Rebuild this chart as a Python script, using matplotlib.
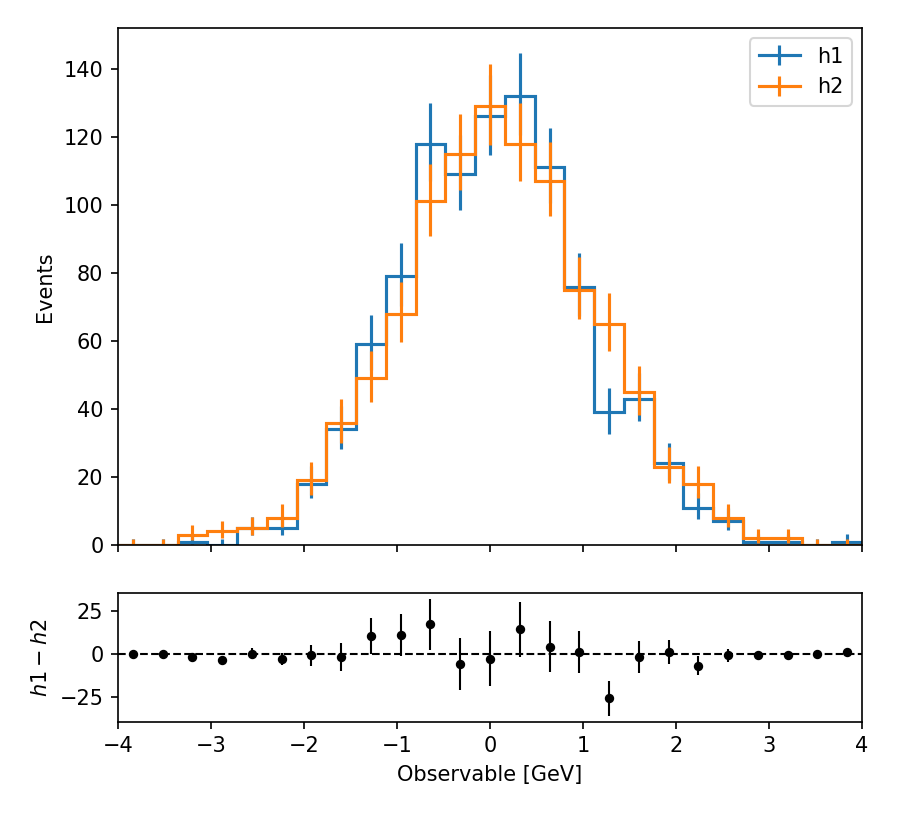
import math
import numpy as np
import matplotlib
matplotlib.use("Agg")
import matplotlib.pyplot as plt
from matplotlib.lines import Line2D

# 25 bins between -4 and 4
edges = np.linspace(-4, 4, 26)
h1 = np.array([0, 0, 1, 0, 5, 5, 18, 34, 59, 79, 118, 109, 126,
               132, 111, 76, 39, 43, 24, 11, 7, 1, 1, 0, 1])
h2 = np.array([0, 0, 3, 4, 5, 8, 19, 36, 49, 68, 101, 115, 129,
               118, 107, 75, 65, 45, 23, 18, 8, 2, 2, 0, 0])
labels = ["h1", "h2"]
colors = ["#1f77b4", "#ff7f0e"]


def pois_cdf(k, mu):
    # P(X <= k) for poisson mean mu
    if k < 0:
        return 0.0
    if mu <= 0:
        return 1.0
    s = 0.0
    for i in range(int(k) + 1):
        s += math.exp(i * math.log(mu) - mu - math.lgamma(i + 1))
    return s


def solve(f, target, lo, hi):
    # f decreasing in mu
    for _ in range(80):
        mid = 0.5 * (lo + hi)
        if f(mid) > target:
            lo = mid
        else:
            hi = mid
    return 0.5 * (lo + hi)


def poisson_err(counts):
    a = 0.5 * (1 - 0.682689492)
    lo_err, hi_err = [], []
    for n in counts:
        n = int(n)
        if n == 0:
            mu_lo = 0.0
        else:
            mu_lo = solve(lambda m: pois_cdf(n - 1, m), 1 - a, 0, n + 50)
        mu_hi = solve(lambda m: pois_cdf(n, m), a, 0, n + 100)
        lo_err.append(n - mu_lo)
        hi_err.append(mu_hi - n)
    return np.array([lo_err, hi_err])


centers = 0.5 * (edges[1:] + edges[:-1])

fig = plt.figure(figsize=(898 / 150, 817 / 150), dpi=150)
ax = fig.add_axes([0.1314, 0.3329, 0.8285, 0.6328])
rax = fig.add_axes([0.1314, 0.1166, 0.8285, 0.1576], sharex=ax)

handles = []
for vals, lab, c in zip([h1, h2], labels, colors):
    ax.stairs(vals, edges, color=c, linewidth=1.5)
    ax.errorbar(centers, vals, yerr=poisson_err(vals), fmt="none",
                ecolor=c, elinewidth=1.5)
    handles.append(Line2D([], [], color=c, linewidth=1.5, marker="|",
                          markersize=10, markeredgewidth=1.5, label=lab))

ax.set_xlim(-4, 4)
ax.set_ylim(0, 152)
ax.set_ylabel("Events")
ax.legend(handles=handles, loc="upper right")
plt.setp(ax.get_xticklabels(), visible=False)

# difference panel
diff = h1 - h2
diff_err = np.sqrt(h1 + h2)
rax.errorbar(centers, diff, yerr=diff_err, fmt="ko", markersize=3.5,
             elinewidth=1)
rax.axhline(0, color="k", linestyle="--", linewidth=1)
rax.set_ylabel("$h1 - h2$")
rax.set_xlabel("Observable [GeV]")
rax.set_xlim(-4, 4)

fig.align_ylabels([ax, rax])
fig.savefig("out.png", dpi=150)
